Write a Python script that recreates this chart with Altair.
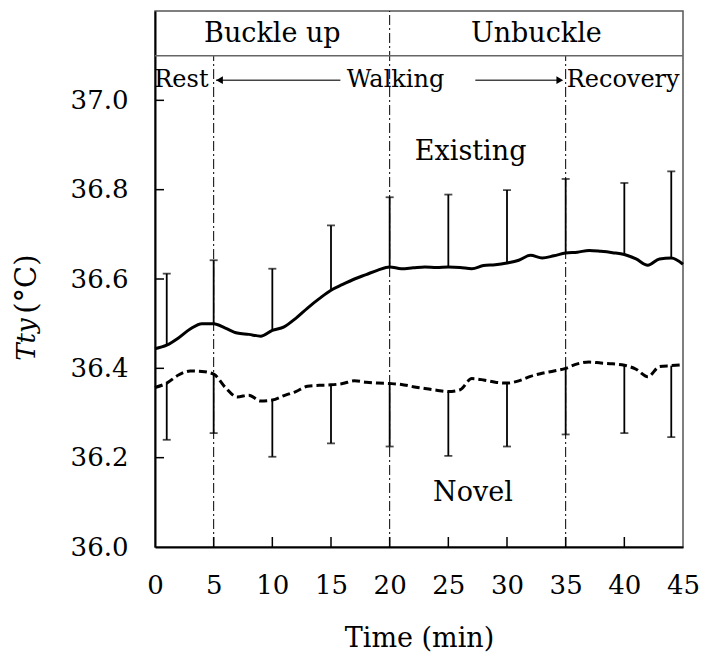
import altair as alt
import pandas as pd

# Mean thigh skin temperature (°C) per minute
minutes = list(range(46))
existing_mean = [
    36.444, 36.452, 36.468, 36.488, 36.500, 36.500, 36.490, 36.479, 36.476, 36.472,
    36.485, 36.493, 36.512, 36.535, 36.556, 36.575, 36.588, 36.600, 36.610, 36.620,
    36.627, 36.623, 36.625, 36.627, 36.626, 36.627, 36.626, 36.623, 36.630, 36.632,
    36.636, 36.642, 36.653, 36.647, 36.652, 36.658, 36.660, 36.664, 36.662, 36.659,
    36.655, 36.645, 36.631, 36.645, 36.647, 36.633,
]
novel_mean = [
    36.357, 36.367, 36.385, 36.394, 36.393, 36.387, 36.357, 36.336, 36.340, 36.327,
    36.329, 36.339, 36.348, 36.360, 36.362, 36.363, 36.366, 36.372, 36.369, 36.367,
    36.366, 36.364, 36.359, 36.355, 36.351, 36.348, 36.352, 36.377, 36.374, 36.369,
    36.367, 36.372, 36.382, 36.389, 36.394, 36.400, 36.410, 36.414, 36.412, 36.410,
    36.407, 36.398, 36.381, 36.404, 36.406, 36.408,
]

# One-sided SD bars
err_minutes = [1, 5, 10, 15, 20, 25, 30, 35, 40, 44]
existing_upper = [36.612, 36.642, 36.623, 36.720, 36.783, 36.789, 36.799, 36.824, 36.815, 36.841]
novel_lower = [36.240, 36.255, 36.202, 36.232, 36.225, 36.204, 36.225, 36.252, 36.255, 36.246]

# Phase boundaries
phase_t = [5, 20, 35]
phase_top = [37.1, 37.2, 37.1]

x_ticks = [0, 5, 10, 15, 20, 25, 30, 35, 40, 45]
y_ticks = [36.0, 36.2, 36.4, 36.6, 36.8, 37.0]

FONT = "DejaVu Serif"
FS = 27
ROW2_FS = 24
TICK_FS = 26

x_scale = alt.Scale(domain=[0, 45], nice=False, zero=False)
y_scale = alt.Scale(domain=[36.0, 37.2], nice=False, zero=False)

x_axis = alt.Axis(values=x_ticks, title="Time (min)", labelPadding=25,
                  titlePadding=27, format="d", labelFlush=False, labelOverlap=False)
y_axis = alt.Axis(values=y_ticks, title=None, format=".1f", labelPadding=27,
                  labelFlush=False, labelOverlap=False)

lines_df = pd.DataFrame({"t": minutes, "existing": existing_mean, "novel": novel_mean})
err_df = pd.DataFrame({
    "t": err_minutes,
    "existing": [existing_mean[m] for m in err_minutes],
    "existing_up": existing_upper,
    "novel": [novel_mean[m] for m in err_minutes],
    "novel_low": novel_lower,
})
phase_df = pd.DataFrame({"t": phase_t, "y0": [36.0] * 3, "y1": phase_top})

base_x = alt.X("t:Q", scale=x_scale, axis=x_axis)

phases = alt.Chart(phase_df).mark_rule(
    color="black", strokeWidth=1, strokeDash=[10, 3, 2, 3]
).encode(x=base_x, y=alt.Y("y0:Q", scale=y_scale, axis=y_axis), y2="y1:Q")

sep_df = pd.DataFrame({"t0": [0], "t1": [45], "v": [37.1]})
separator = alt.Chart(sep_df).mark_rule(color="#666", strokeWidth=1.5).encode(
    x=alt.X("t0:Q", scale=x_scale), x2="t1:Q", y=alt.Y("v:Q", scale=y_scale)
)

# inward tick marks
ytick_df = pd.DataFrame({"v": y_ticks[1:]})
yticks = alt.Chart(ytick_df).mark_rule(color="black", strokeWidth=1.5).encode(
    y=alt.Y("v:Q", scale=y_scale), x=alt.value(0), x2=alt.value(9)
)
xtick_df = pd.DataFrame({"t": x_ticks[1:-1]})
xticks = alt.Chart(xtick_df).mark_rule(color="black", strokeWidth=1.5).encode(
    x=alt.X("t:Q", scale=x_scale), y=alt.value(536), y2=alt.value(526)
)

existing_line = alt.Chart(lines_df).mark_line(
    color="black", strokeWidth=3, interpolate="monotone"
).encode(x=alt.X("t:Q", scale=x_scale), y=alt.Y("existing:Q", scale=y_scale))

novel_line = alt.Chart(lines_df).mark_line(
    color="black", strokeWidth=3, strokeDash=[8, 4], interpolate="monotone"
).encode(x=alt.X("t:Q", scale=x_scale), y=alt.Y("novel:Q", scale=y_scale))

existing_err = alt.Chart(err_df).mark_rule(color="black", strokeWidth=1.8).encode(
    x=alt.X("t:Q", scale=x_scale), y=alt.Y("existing:Q", scale=y_scale), y2="existing_up:Q"
)
existing_cap = alt.Chart(err_df).mark_tick(
    color="black", orient="horizontal", size=8, thickness=1.8
).encode(x=alt.X("t:Q", scale=x_scale), y=alt.Y("existing_up:Q", scale=y_scale))

novel_err = alt.Chart(err_df).mark_rule(color="black", strokeWidth=1.8).encode(
    x=alt.X("t:Q", scale=x_scale), y=alt.Y("novel:Q", scale=y_scale), y2="novel_low:Q"
)
novel_cap = alt.Chart(err_df).mark_tick(
    color="black", orient="horizontal", size=8, thickness=1.8
).encode(x=alt.X("t:Q", scale=x_scale), y=alt.Y("novel_low:Q", scale=y_scale))

# header (top row) and series labels
label_df = pd.DataFrame({
    "text": ["Buckle up", "Unbuckle", "Existing", "Novel"],
    "t": [10, 32.5, 26.9, 27.1],
    "v": [37.148, 37.148, 36.885, 36.12],
})
labels = alt.Chart(label_df).mark_text(
    font=FONT, fontSize=FS, color="black", baseline="middle", align="center"
).encode(x=alt.X("t:Q", scale=x_scale), y=alt.Y("v:Q", scale=y_scale), text="text:N")

# header (second row): activity phases
phase_label_df = pd.DataFrame({
    "text": ["Rest", "Walking", "Recovery"],
    "t": [2.25, 20.5, 39.9],
    "v": [37.045, 37.045, 37.045],
})
phase_labels = alt.Chart(phase_label_df).mark_text(
    font=FONT, fontSize=ROW2_FS, color="black", baseline="middle", align="center"
).encode(x=alt.X("t:Q", scale=x_scale), y=alt.Y("v:Q", scale=y_scale), text="text:N")

# walking arrows
arrow_df = pd.DataFrame({"t0": [15.8, 27.3], "t1": [5.2, 34.6], "v": [37.045, 37.045]})
arrow_lines = alt.Chart(arrow_df).mark_rule(color="#444", strokeWidth=1.3).encode(
    x=alt.X("t0:Q", scale=x_scale), x2="t1:Q", y=alt.Y("v:Q", scale=y_scale)
)
head_df = pd.DataFrame({"t": [5.5, 34.5], "v": [37.045, 37.045],
                        "shape": ["triangle-left", "triangle-right"]})
arrow_heads = alt.Chart(head_df).mark_point(filled=True, color="black", size=60, opacity=1).encode(
    x=alt.X("t:Q", scale=x_scale), y=alt.Y("v:Q", scale=y_scale),
    shape=alt.Shape("shape:N", scale=None, legend=None)
)

# y-axis title: italic symbol + unit
ytitle_df = pd.DataFrame({"v": [36.512], "text": ["Tty"]})
ytitle_sym = alt.Chart(ytitle_df).mark_text(
    font=FONT, fontSize=FS - 1, fontStyle="italic", color="black",
    angle=270, align="right", baseline="middle"
).encode(x=alt.value(-128), y=alt.Y("v:Q", scale=y_scale), text="text:N")
yunit_df = pd.DataFrame({"v": [36.522], "text": ["(°C)"]})
ytitle_unit = alt.Chart(yunit_df).mark_text(
    font=FONT, fontSize=FS + 2, color="black", angle=270, align="left", baseline="middle"
).encode(x=alt.value(-128), y=alt.Y("v:Q", scale=y_scale), text="text:N")

chart = alt.layer(
    phases, separator, yticks, xticks,
    existing_line, novel_line,
    existing_err, existing_cap, novel_err, novel_cap,
    arrow_lines, arrow_heads, labels, phase_labels, ytitle_sym, ytitle_unit,
).properties(
    width=528, height=536,
    autosize=alt.AutoSizeParams(type="none"),
    padding={"left": 155, "top": 11, "right": 21, "bottom": 111},
    background="white",
).configure_view(
    stroke="#555", strokeWidth=1.5
).configure_axis(
    grid=False, ticks=False,
    labelFont=FONT, labelFontSize=TICK_FS, labelColor="black",
    titleFont=FONT, titleFontSize=FS, titleFontWeight="normal", titleColor="black",
    domainColor="black", domainWidth=2,
)

chart.save("out.html", embed_options={"renderer": "svg", "actions": False})
